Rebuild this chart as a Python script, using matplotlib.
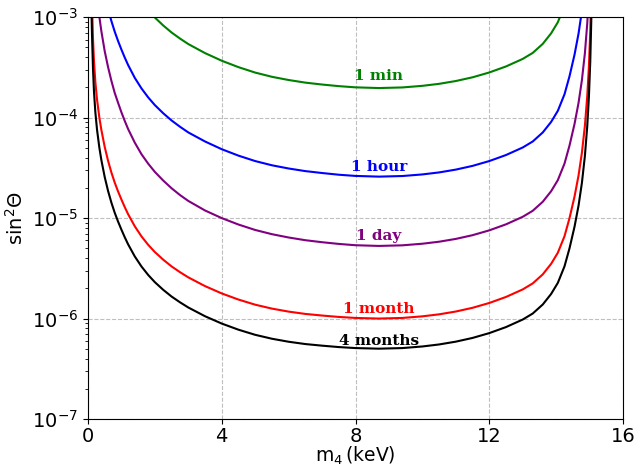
import numpy as np
import matplotlib.pyplot as plt

# curves: m4 in keV, log10(sin^2 theta)
m_min = [1.8, 2.0, 2.25, 2.5, 2.75, 3.0, 3.5, 4.0, 4.5, 5.0, 5.5, 6.0, 6.5,
         7.0, 7.5, 8.0, 8.7, 9.4, 10.0, 10.5, 11.0, 11.5, 12.0, 12.5, 13.0,
         13.3, 13.6, 13.85, 14.05, 14.25]
log_min = [-2.928, -3.003, -3.082, -3.152, -3.212, -3.267, -3.357, -3.433,
           -3.497, -3.551, -3.593, -3.625, -3.651, -3.670, -3.686, -3.698,
           -3.705, -3.699, -3.683, -3.663, -3.635, -3.598, -3.550, -3.490,
           -3.415, -3.355, -3.265, -3.160, -3.050, -2.885]

m_hour = [0.6, 0.7, 0.8, 0.9, 1.0, 1.1, 1.2, 1.4, 1.6, 1.8, 2.0, 2.25, 2.5,
          2.75, 3.0, 3.5, 4.0, 4.5, 5.0, 5.5, 6.0, 6.5, 7.0, 7.5, 8.0, 8.7,
          9.4, 10.0, 10.5, 11.0, 11.5, 12.0, 12.5, 13.0, 13.3, 13.6, 13.85,
          14.05, 14.25, 14.4, 14.55, 14.67, 14.77]
log_hour = [-2.916, -3.038, -3.144, -3.237, -3.322, -3.402, -3.476, -3.604,
            -3.709, -3.798, -3.875, -3.956, -4.028, -4.090, -4.147, -4.237,
            -4.314, -4.378, -4.432, -4.474, -4.506, -4.532, -4.551, -4.568,
            -4.580, -4.587, -4.581, -4.565, -4.545, -4.517, -4.480, -4.432,
            -4.372, -4.297, -4.237, -4.147, -4.042, -3.932, -3.767, -3.587,
            -3.372, -3.162, -2.937]

m_day = [0.27, 0.34, 0.4, 0.5, 0.6, 0.7, 0.8, 0.9, 1.0, 1.1, 1.2, 1.4, 1.6,
         1.8, 2.0, 2.25, 2.5, 2.75, 3.0, 3.5, 4.0, 4.5, 5.0, 5.5, 6.0, 6.5,
         7.0, 7.5, 8.0, 8.7, 9.4, 10.0, 10.5, 11.0, 11.5, 12.0, 12.5, 13.0,
         13.3, 13.6, 13.85, 14.05, 14.25, 14.4, 14.55, 14.67, 14.77, 14.86,
         14.93, 14.98]
log_day = [-2.796, -2.996, -3.139, -3.338, -3.496, -3.633, -3.754, -3.852,
           -3.947, -4.033, -4.113, -4.249, -4.364, -4.458, -4.540, -4.626,
           -4.703, -4.770, -4.829, -4.924, -5.000, -5.064, -5.118, -5.160,
           -5.193, -5.220, -5.240, -5.257, -5.270, -5.277, -5.271, -5.255,
           -5.235, -5.207, -5.170, -5.122, -5.062, -4.987, -4.927, -4.837,
           -4.732, -4.622, -4.457, -4.277, -4.062, -3.852, -3.627, -3.357,
           -3.062, -2.767]

m_month = [0.12, 0.15, 0.18, 0.22, 0.27, 0.34, 0.4, 0.5, 0.6, 0.7, 0.8, 0.9,
           1.0, 1.1, 1.2, 1.4, 1.6, 1.8, 2.0, 2.25, 2.5, 2.75, 3.0, 3.5, 4.0,
           4.5, 5.0, 5.5, 6.0, 6.5, 7.0, 7.5, 8.0, 8.7, 9.4, 10.0, 10.5, 11.0,
           11.5, 12.0, 12.5, 13.0, 13.3, 13.6, 13.85, 14.05, 14.25, 14.4,
           14.55, 14.67, 14.77, 14.86, 14.93, 14.98, 15.02, 15.05]
log_month = [-2.876, -3.216, -3.445, -3.645, -3.819, -3.999, -4.122, -4.291,
             -4.429, -4.546, -4.647, -4.735, -4.815, -4.891, -4.961, -5.082,
             -5.182, -5.266, -5.338, -5.414, -5.481, -5.538, -5.590, -5.677,
             -5.750, -5.811, -5.862, -5.901, -5.931, -5.954, -5.970, -5.984,
             -5.994, -6.000, -5.994, -5.978, -5.958, -5.930, -5.893, -5.845,
             -5.785, -5.710, -5.650, -5.560, -5.455, -5.345, -5.180, -5.000,
             -4.785, -4.575, -4.350, -4.080, -3.785, -3.490, -3.140, -2.740]

m_4month = [0.10, 0.12, 0.15, 0.18, 0.22, 0.27, 0.34, 0.4, 0.5, 0.6, 0.7,
            0.8, 0.9, 1.0, 1.1, 1.2, 1.4, 1.6, 1.8, 2.0, 2.25, 2.5, 2.75,
            3.0, 3.5, 4.0, 4.5, 5.0, 5.5, 6.0, 6.5, 7.0, 7.5, 8.0, 8.7, 9.4,
            10.0, 10.5, 11.0, 11.5, 12.0, 12.5, 13.0, 13.3, 13.6, 13.85,
            14.05, 14.25, 14.4, 14.55, 14.67, 14.77, 14.86, 14.93, 14.98,
            15.02, 15.05, 15.07]
log_4month = [-2.860, -3.176, -3.516, -3.745, -3.945, -4.119, -4.299, -4.422,
              -4.591, -4.729, -4.846, -4.947, -5.035, -5.115, -5.191, -5.261,
              -5.382, -5.482, -5.566, -5.638, -5.714, -5.781, -5.838, -5.890,
              -5.977, -6.050, -6.111, -6.162, -6.201, -6.231, -6.254, -6.270,
              -6.284, -6.294, -6.300, -6.294, -6.278, -6.258, -6.230, -6.193,
              -6.145, -6.085, -6.010, -5.950, -5.860, -5.755, -5.645, -5.480,
              -5.300, -5.085, -4.875, -4.650, -4.380, -4.085, -3.790, -3.440,
              -3.040, -2.610]

labels = ['1 min', '1 hour', '1 day', '1 month', '4 months']
colors = ['green', 'blue', 'purple', 'red', 'black']
label_y = [2.21e-4, 2.75e-5, 5.65e-6, 1.06e-6, 5.1e-7]
label_x = 8.7

fig = plt.figure(figsize=(6.39, 4.66), dpi=100)
ax = fig.add_axes([0.1377, 0.1009, 0.8373, 0.8621])

curves = [(m_min, log_min), (m_hour, log_hour), (m_day, log_day),
          (m_month, log_month), (m_4month, log_4month)]
for (m, lg), c, lab, ly in zip(curves, colors, labels, label_y):
    ax.plot(m, 10.0 ** np.array(lg), color=c, lw=1.5)
    ax.text(label_x, ly, lab, color=c, family='DejaVu Serif',
            fontweight='bold', fontsize=11, ha='center', va='bottom')

ax.set_yscale('log')
ax.set_xlim(0, 16)
ax.set_ylim(1e-7, 1e-3)
ax.set_xticks([0, 4, 8, 12, 16])
ax.tick_params(labelsize=14)
ax.tick_params(axis='x', pad=2)
ax.grid(True, which='major', ls='--', color='0.75', lw=0.8)
ax.set_xlabel(r'm$_4\,$(keV)', fontsize=13.5, labelpad=-1)
ax.set_ylabel(r'sin$^2\Theta$', fontsize=14)

fig.savefig('out.png', dpi=100)
